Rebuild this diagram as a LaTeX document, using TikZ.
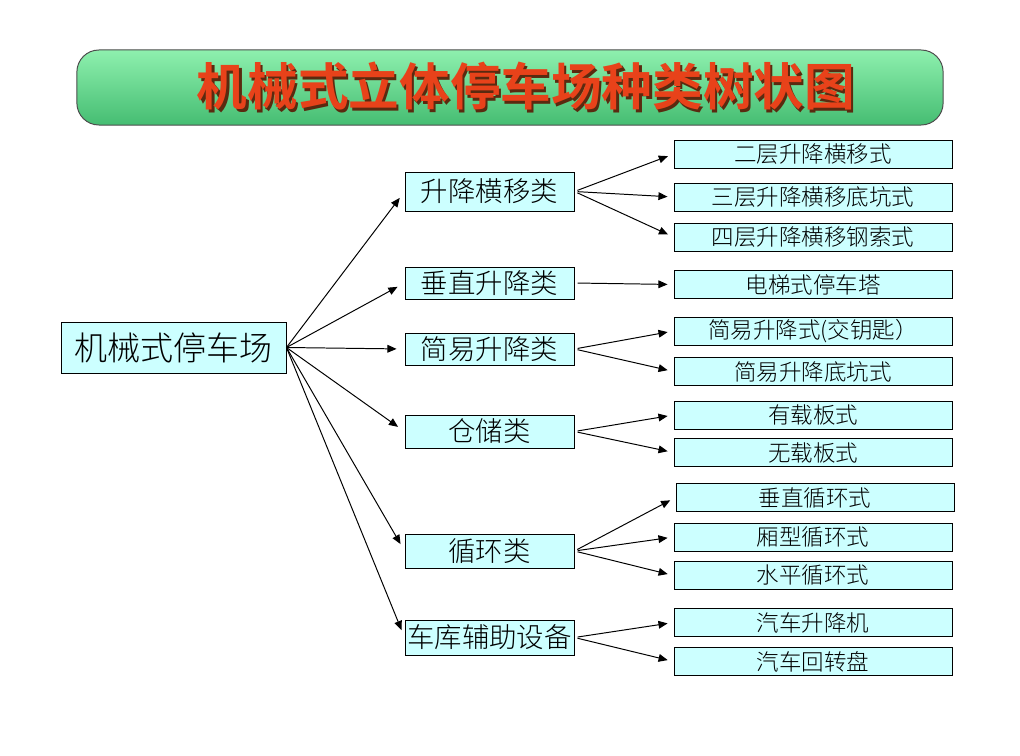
\documentclass[tikz,border=0pt]{standalone}
\usepackage{fontspec}
\setmainfont{Noto Sans CJK SC}[UprightFont=* Light, BoldFont=* Bold]
\usetikzlibrary{arrows.meta}
\definecolor{cbox}{HTML}{CCFFFF}
\definecolor{ctitlehi}{HTML}{8EF0AE}
\definecolor{ctitlelo}{HTML}{45BD72}
\definecolor{ctitletext}{HTML}{E8421A}
\definecolor{cshadow}{HTML}{5A2A10}
\tikzset{
  every picture/.style={line width=0.7pt},
  box/.style={draw=black, fill=cbox, inner sep=0pt, line width=0.6pt},
  rootbox/.style={box, minimum width=5.625cm, minimum height=1.275cm, font=\fontsize{23.5}{25}\selectfont},
  midbox/.style={box, minimum width=4.225cm, minimum height=#1, font=\fontsize{19.5}{21}\selectfont},
  leafbox/.style={box, minimum width=6.95cm, minimum height=0.7cm, font=\fontsize{16}{18}\selectfont},
  arrow/.style={-{Triangle[length=6.5pt, width=5.5pt]}, line width=0.7pt},
  titlebox/.style={draw=black!70, rounded corners=0.55cm, top color=ctitlehi, bottom color=ctitlelo,
    minimum width=21.65cm, minimum height=1.875cm, font=\fontsize{36}{38}\selectfont\bfseries, text=ctitletext},
}
\newcommand{\shadowed}[1]{\makebox[0pt][l]{\hspace{1.5pt}\raisebox{-1.5pt}{\color{cshadow}#1}}#1}

\begin{document}
\begin{tikzpicture}[x=0.025cm, y=-0.025cm]
  \useasboundingbox (0,0) rectangle (1020,756);
  % title
  \node[titlebox] (title) at (510,87.5) {\hspace*{0.8cm}\shadowed{机械式立体停车场种类树状图}};
  % root and classes
  \node[rootbox] (root) at (173.5,347.5) {机械式停车场};
  \node[midbox=0.975cm] (hx) at (489.5,191.5) {升降横移类};
  \node[midbox=0.8cm] (cz) at (489.5,283) {垂直升降类};
  \node[midbox=0.8cm] (jy) at (489.5,349) {简易升降类};
  \node[midbox=0.825cm] (cc) at (489.5,431.5) {仓储类};
  \node[midbox=0.85cm] (xh) at (489.5,551) {循环类};
  \node[midbox=0.875cm] (fz) at (489.5,637.5) {车库辅助设备};
  % leaves
  \node[leafbox] (hx1) at (813,154) {二层升降横移式};
  \node[leafbox] (hx2) at (813,197) {三层升降横移底坑式};
  \node[leafbox] (hx3) at (813,237) {四层升降横移钢索式};
  \node[leafbox] (cz1) at (813,284.5) {电梯式停车塔};
  \node[leafbox] (jy1) at (813,331) {简易升降式(交钥匙）};
  \node[leafbox] (jy2) at (813,371.5) {简易升降底坑式};
  \node[leafbox] (cc1) at (813,415) {有载板式};
  \node[leafbox] (cc2) at (813,452.5) {无载板式};
  \node[leafbox] (xh1) at (815,497.5) {垂直循环式};
  \node[leafbox] (xh2) at (813,537) {厢型循环式};
  \node[leafbox] (xh3) at (813,575.5) {水平循环式};
  \node[leafbox] (fz1) at (813,622.5) {汽车升降机};
  \node[leafbox] (fz2) at (813,661.5) {汽车回转盘};
  % connectors
  \foreach \n in {hx,cz,jy,cc,xh,fz}
    \draw[arrow, shorten >=0.2cm] (root.east) -- (\n.west);
  \foreach \p/\c in {hx/hx1,hx/hx2,hx/hx3,cz/cz1,jy/jy1,jy/jy2,cc/cc1,cc/cc2,xh/xh1,xh/xh2,xh/xh3,fz/fz1,fz/fz2}
    \draw[arrow, shorten <=0.08cm, shorten >=0.15cm] (\p.east) -- (\c.west);
\end{tikzpicture}
\end{document}
